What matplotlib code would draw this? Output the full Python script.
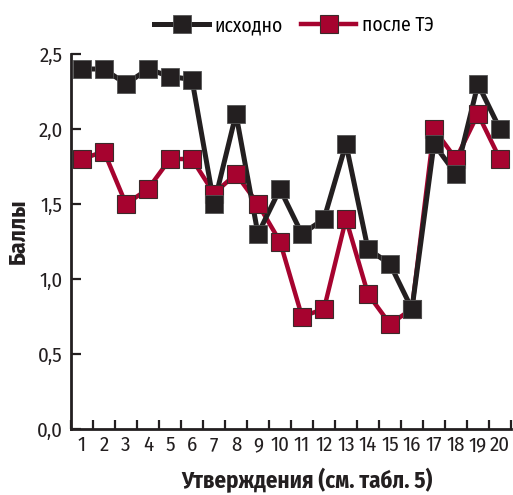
import matplotlib
matplotlib.use("Agg")
import matplotlib.pyplot as plt
import numpy as np
from matplotlib.ticker import FixedLocator, FixedFormatter, NullFormatter

plt.rcParams['font.family'] = ['Fira Sans Condensed', 'DejaVu Sans']
plt.rcParams['font.stretch'] = 'condensed'

categories = [str(i) for i in range(1, 21)]
baseline = [2.4, 2.4, 2.3, 2.4, 2.35, 2.33, 1.5, 2.1, 1.3, 1.6,
            1.3, 1.4, 1.9, 1.2, 1.1, 0.8, 1.9, 1.7, 2.3, 2.0]
after = [1.8, 1.85, 1.5, 1.6, 1.8, 1.8, 1.57, 1.7, 1.5, 1.25,
         0.75, 0.8, 1.4, 0.9, 0.7, 0.8, 2.0, 1.8, 2.1, 1.8]
ytick_values = [0.0, 0.5, 1.0, 1.5, 2.0, 2.5]
ytick_labels = ['0,0', '0,5', '1,0', '1,5', '2,0', '2,5']
series_names = ['исходно', 'после ТЭ']

BLACK = '#231f20'
RED = '#a6032f'

fig = plt.figure(figsize=(5.13, 4.95), dpi=100)
ax = fig.add_axes([0.1384, 0.1333, 0.8576, 0.7576])

x = np.arange(1, len(categories) + 1)

ax.plot(x, after, color=RED, lw=3.2, zorder=2)
ax.plot(x, baseline, color=BLACK, lw=3.6, zorder=3)
ax.plot(x, after, ls='none', marker='s', ms=13.3, mfc=RED, mec='#3a2a2a', mew=0.8, zorder=4)
ax.plot(x, baseline, ls='none', marker='s', ms=13.3, mfc=BLACK, mec='#555555', mew=0.6, zorder=5)

# legend proxies
h1, = ax.plot([], [], color=BLACK, lw=3.6, marker='s', ms=13, mfc=BLACK, mec='#555555', mew=0.6)
h2, = ax.plot([], [], color=RED, lw=3.2, marker='s', ms=13, mfc=RED, mec='#3a2a2a', mew=0.8)
leg = fig.legend([h1, h2], series_names, loc='center', bbox_to_anchor=(0.573, 0.949),
                 ncol=2, frameon=False, fontsize=14, handlelength=2.8,
                 handletextpad=0.3, columnspacing=0.95)

ax.set_xlim(0.5, len(categories) + 0.5)
ax.set_ylim(0, 2.5)

ax.xaxis.set_major_locator(FixedLocator(np.arange(0.5, len(categories) + 1, 1.0)))
ax.xaxis.set_major_formatter(NullFormatter())
ax.xaxis.set_minor_locator(FixedLocator(x))
ax.xaxis.set_minor_formatter(FixedFormatter(categories))
ax.tick_params(axis='x', which='major', direction='in', length=6.5, width=1.6, color=BLACK)
ax.tick_params(axis='x', which='minor', length=0, pad=5, labelsize=15, labelcolor=BLACK)

ax.yaxis.set_major_locator(FixedLocator(ytick_values))
ax.yaxis.set_major_formatter(FixedFormatter(ytick_labels))
ax.tick_params(axis='y', which='major', direction='in', length=7, width=1.6, color=BLACK,
               pad=6, labelsize=15, labelcolor=BLACK)

for s in ['top', 'right']:
    ax.spines[s].set_visible(False)
for s in ['left', 'bottom']:
    ax.spines[s].set_linewidth(2.0)
    ax.spines[s].set_color(BLACK)

ax.set_ylabel('Баллы', fontsize=17, fontweight='bold', color=BLACK)
ax.set_xlabel('Утверждения (см. табл. 5)', fontsize=16.5, fontweight='bold', color=BLACK)
ax.yaxis.set_label_coords(-0.094, 0.528)
ax.xaxis.set_label_coords(0.536, -0.103)

fig.savefig('out.png', dpi=100)
